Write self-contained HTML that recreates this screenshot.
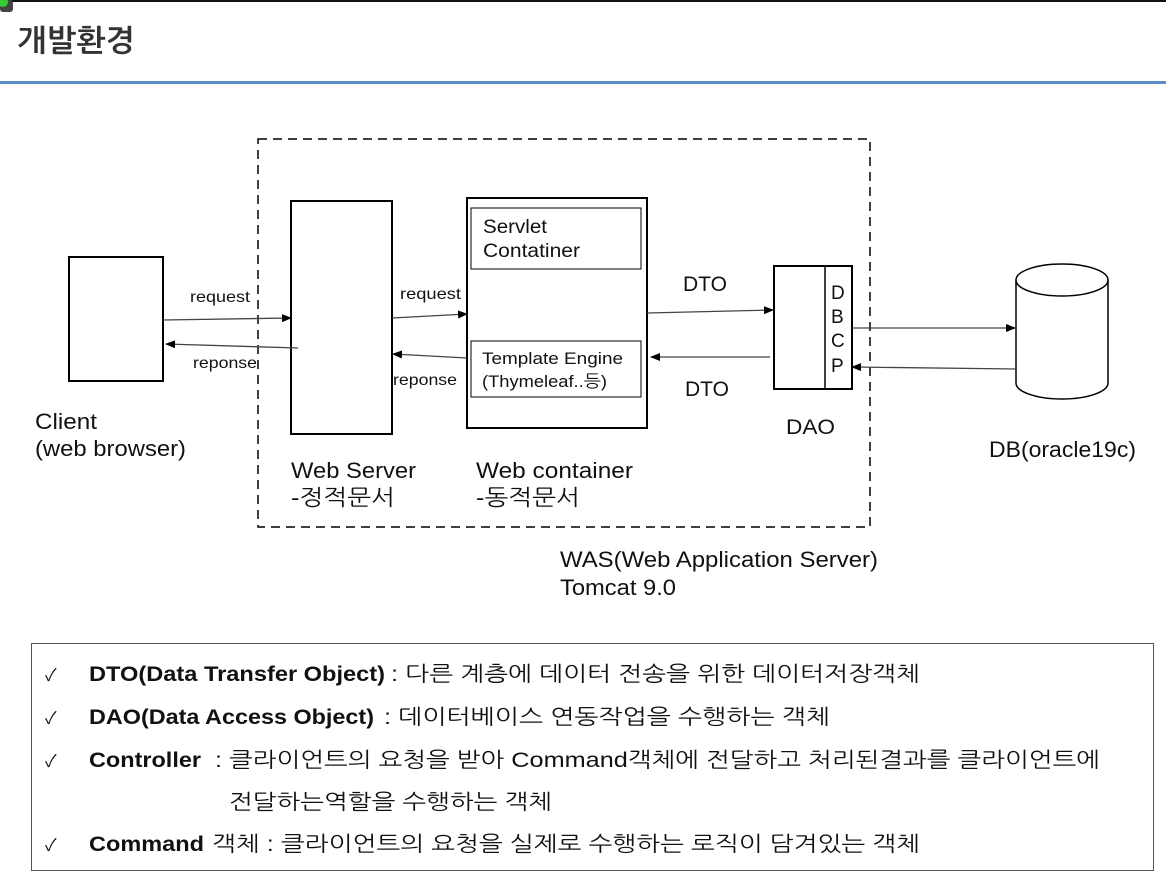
<!DOCTYPE html>
<html><head><meta charset="utf-8"><style>
html,body{margin:0;padding:0;background:#fff;}
svg{display:block;}
text{font-family:"Liberation Sans","NanumGothic","Noto Sans CJK KR",sans-serif;fill:#111;}
</style></head><body>
<svg width="1166" height="875" viewBox="0 0 1166 875" xmlns="http://www.w3.org/2000/svg">
<defs>
<marker id="a" markerWidth="10" markerHeight="8" refX="9" refY="4" orient="auto" markerUnits="userSpaceOnUse">
<path d="M0,0 L10,4 L0,8 z" fill="#000"/></marker>
</defs>
<rect x="0" y="0" width="1166" height="2" fill="#111"/>
<rect x="0" y="0" width="13" height="12" rx="3" fill="#444"/>
<circle cx="3" cy="2" r="5" fill="#3c3"/>
<text x="17" y="51" font-size="30" font-weight="bold" style="fill:#333" textLength="118" lengthAdjust="spacingAndGlyphs">개발환경</text>
<rect x="0" y="81" width="1166" height="3" fill="#5b8ec6"/>

<rect x="258" y="139" width="612" height="388" fill="none" stroke="#000" stroke-width="1.5" stroke-dasharray="9,6"/>

<rect x="69" y="257" width="94" height="124" fill="#fff" stroke="#000" stroke-width="2"/>
<rect x="291" y="201" width="101" height="233" fill="#fff" stroke="#000" stroke-width="2"/>
<rect x="467" y="198" width="180" height="230" fill="#fff" stroke="#000" stroke-width="2"/>
<rect x="471" y="208" width="170" height="61" fill="#fff" stroke="#000" stroke-width="1"/>
<rect x="471" y="341" width="170" height="56" fill="#fff" stroke="#000" stroke-width="1"/>
<rect x="774" y="266" width="78" height="123" fill="#fff" stroke="#000" stroke-width="2"/>
<line x1="825" y1="266" x2="825" y2="389" stroke="#000" stroke-width="1.5"/>

<path d="M1016,280 L1016,383 A46,16 0 0 0 1108,383 L1108,280" fill="#fff" stroke="#000" stroke-width="1.5"/>
<ellipse cx="1062" cy="280" rx="46" ry="16" fill="#fff" stroke="#000" stroke-width="1.5"/>

<g stroke="#444" stroke-width="1.3" fill="none" marker-end="url(#a)">
<line x1="163" y1="320" x2="291" y2="318"/>
<line x1="298" y1="348" x2="166" y2="344"/>
<line x1="392" y1="318" x2="467" y2="314"/>
<line x1="467" y1="358" x2="393" y2="354"/>
<line x1="647" y1="313" x2="773" y2="310"/>
<line x1="770" y1="357" x2="651" y2="357"/>
<line x1="852" y1="328" x2="1015" y2="328"/>
<line x1="1016" y1="369" x2="852" y2="367"/>
</g>

<g font-size="16">
<text x="190" y="302" textLength="60" lengthAdjust="spacingAndGlyphs">request</text>
<text x="193" y="368" textLength="64" lengthAdjust="spacingAndGlyphs">reponse</text>
<text x="400" y="299" textLength="61" lengthAdjust="spacingAndGlyphs">request</text>
<text x="393" y="385" textLength="64" lengthAdjust="spacingAndGlyphs">reponse</text>
</g>
<g font-size="19">
<text x="483" y="233" textLength="64" lengthAdjust="spacingAndGlyphs">Servlet</text>
<text x="483" y="257" textLength="97" lengthAdjust="spacingAndGlyphs">Contatiner</text>
</g>
<g font-size="17">
<text x="482" y="364" textLength="141" lengthAdjust="spacingAndGlyphs">Template Engine</text>
<text x="482" y="387" textLength="125" lengthAdjust="spacingAndGlyphs">(Thymeleaf..등)</text>
</g>
<g font-size="21">
<text x="683" y="291" textLength="44" lengthAdjust="spacingAndGlyphs">DTO</text>
<text x="685" y="396" textLength="44" lengthAdjust="spacingAndGlyphs">DTO</text>
<text x="786" y="434" textLength="49" lengthAdjust="spacingAndGlyphs">DAO</text>
</g>
<g font-size="19">
<text x="831" y="299">D</text>
<text x="831" y="323">B</text>
<text x="831" y="347">C</text>
<text x="831" y="372">P</text>
</g>
<g font-size="22">
<text x="35" y="429" textLength="62" lengthAdjust="spacingAndGlyphs">Client</text>
<text x="35" y="456" textLength="151" lengthAdjust="spacingAndGlyphs">(web browser)</text>
<text x="291" y="478" textLength="125" lengthAdjust="spacingAndGlyphs">Web Server</text>
<text x="291" y="505" textLength="104" lengthAdjust="spacingAndGlyphs">-정적문서</text>
<text x="476" y="478" textLength="157" lengthAdjust="spacingAndGlyphs">Web container</text>
<text x="476" y="505" textLength="104" lengthAdjust="spacingAndGlyphs">-동적문서</text>
<text x="989" y="457" textLength="147" lengthAdjust="spacingAndGlyphs">DB(oracle19c)</text>
<text x="560" y="567" textLength="318" lengthAdjust="spacingAndGlyphs">WAS(Web Application Server)</text>
<text x="560" y="595" textLength="116" lengthAdjust="spacingAndGlyphs">Tomcat 9.0</text>
</g>

<rect x="31.5" y="643.5" width="1122" height="227" fill="none" stroke="#555" stroke-width="1"/>
<g font-size="21">
<text x="45" y="681" font-size="17">✓</text>
<text x="45" y="724" font-size="17">✓</text>
<text x="45" y="767" font-size="17">✓</text>
<text x="45" y="851" font-size="17">✓</text>
<text x="89" y="681" font-weight="bold" textLength="296" lengthAdjust="spacingAndGlyphs">DTO(Data Transfer Object)</text>
<text x="391" y="681" textLength="529" lengthAdjust="spacingAndGlyphs">: 다른 계층에 데이터 전송을 위한 데이터저장객체</text>
<text x="89" y="724" font-weight="bold" textLength="285" lengthAdjust="spacingAndGlyphs">DAO(Data Access Object)</text>
<text x="384" y="724" textLength="446" lengthAdjust="spacingAndGlyphs">: 데이터베이스 연동작업을 수행하는 객체</text>
<text x="89" y="767" font-weight="bold" textLength="112" lengthAdjust="spacingAndGlyphs">Controller</text>
<text x="215" y="767" textLength="885" lengthAdjust="spacingAndGlyphs">: 클라이언트의 요청을 받아 Command객체에 전달하고 처리된결과를 클라이언트에</text>
<text x="229" y="809" textLength="323" lengthAdjust="spacingAndGlyphs">전달하는역할을 수행하는 객체</text>
<text x="89" y="851" font-weight="bold" textLength="115" lengthAdjust="spacingAndGlyphs">Command</text>
<text x="212" y="851" textLength="708" lengthAdjust="spacingAndGlyphs">객체 : 클라이언트의 요청을 실제로 수행하는 로직이 담겨있는 객체</text>
</g>
</svg>
</body></html>
